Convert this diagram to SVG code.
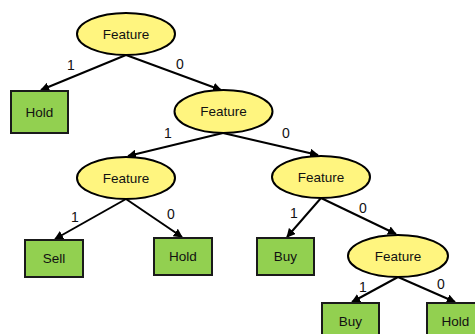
<svg xmlns="http://www.w3.org/2000/svg" width="475" height="334" viewBox="0 0 475 334">
  <style>
    .dec { fill: #FFF57F; stroke: #000; stroke-width: 2; }
    .leaf { fill: #92D050; stroke: #1a1a1a; stroke-width: 2; }
    .lbl { font-family: "Liberation Sans", Arial, sans-serif; font-size: 13.5px; fill: #111; text-anchor: middle; dominant-baseline: central; }
    .edge { stroke: #000; stroke-width: 2; fill: none; marker-end: url(#arrow); }
    .elbl { font-family: "Liberation Sans", Arial, sans-serif; font-size: 14px; fill: #111; text-anchor: middle; dominant-baseline: central; }
  </style>
  <defs>
    <marker id="arrow" viewBox="0 0 10 10" refX="9" refY="5" markerWidth="4.5" markerHeight="4.5" orient="auto" markerUnits="strokeWidth">
      <path d="M0,0 L10,5 L0,10 z" fill="#000"/>
    </marker>
  </defs>

  <!-- connectors -->
  <g id="connectors">
    <line class="edge" x1="126" y1="55" x2="41" y2="90"/>
    <text class="elbl" x="71" y="65">1</text>
    <line class="edge" x1="126" y1="55" x2="221" y2="90"/>
    <text class="elbl" x="180" y="64">0</text>

    <line class="edge" x1="223" y1="133" x2="128" y2="156"/>
    <text class="elbl" x="168" y="133">1</text>
    <line class="edge" x1="223" y1="133" x2="318" y2="155"/>
    <text class="elbl" x="286" y="133">0</text>

    <line class="edge" x1="126" y1="199" x2="55" y2="239"/>
    <text class="elbl" x="75" y="217">1</text>
    <line class="edge" x1="126" y1="199" x2="182" y2="237"/>
    <text class="elbl" x="171" y="214">0</text>

    <line class="edge" x1="321" y1="198" x2="287" y2="237"/>
    <text class="elbl" x="294" y="213">1</text>
    <line class="edge" x1="321" y1="198" x2="396" y2="234"/>
    <text class="elbl" x="363" y="208">0</text>

    <line class="edge" x1="398" y1="277" x2="352" y2="302"/>
    <text class="elbl" x="363" y="287">1</text>
    <line class="edge" x1="398" y1="277" x2="455" y2="302"/>
    <text class="elbl" x="441" y="284">0</text>
  </g>

  <!-- decision nodes -->
  <g id="feature-root">
    <ellipse class="dec" cx="126" cy="34" rx="49" ry="21"/>
    <text class="lbl" x="126" y="34">Feature</text>
  </g>
  <g id="feature-2">
    <ellipse class="dec" cx="223.5" cy="111.5" rx="49" ry="21.5"/>
    <text class="lbl" x="223.5" y="111.5">Feature</text>
  </g>
  <g id="feature-3">
    <ellipse class="dec" cx="126" cy="178" rx="49" ry="21"/>
    <text class="lbl" x="126" y="178">Feature</text>
  </g>
  <g id="feature-4">
    <ellipse class="dec" cx="321" cy="177" rx="49" ry="21"/>
    <text class="lbl" x="321" y="177">Feature</text>
  </g>
  <g id="feature-5">
    <ellipse class="dec" cx="398" cy="256" rx="50" ry="21"/>
    <text class="lbl" x="398" y="256">Feature</text>
  </g>

  <!-- leaf nodes -->
  <g id="leaf-hold-1">
    <rect class="leaf" x="11" y="91" width="57" height="42"/>
    <text class="lbl" x="39.5" y="112">Hold</text>
  </g>
  <g id="leaf-sell">
    <rect class="leaf" x="25" y="240" width="58" height="37"/>
    <text class="lbl" x="54" y="258.5">Sell</text>
  </g>
  <g id="leaf-hold-2">
    <rect class="leaf" x="154" y="238" width="58" height="37"/>
    <text class="lbl" x="183" y="256.5">Hold</text>
  </g>
  <g id="leaf-buy-1">
    <rect class="leaf" x="257" y="238" width="57" height="37"/>
    <text class="lbl" x="285.5" y="256.5">Buy</text>
  </g>
  <g id="leaf-buy-2">
    <rect class="leaf" x="322" y="303" width="57" height="37"/>
    <text class="lbl" x="350.5" y="321">Buy</text>
  </g>
  <g id="leaf-hold-3">
    <rect class="leaf" x="427" y="303" width="57" height="37"/>
    <text class="lbl" x="455.5" y="321">Hold</text>
  </g>
</svg>
